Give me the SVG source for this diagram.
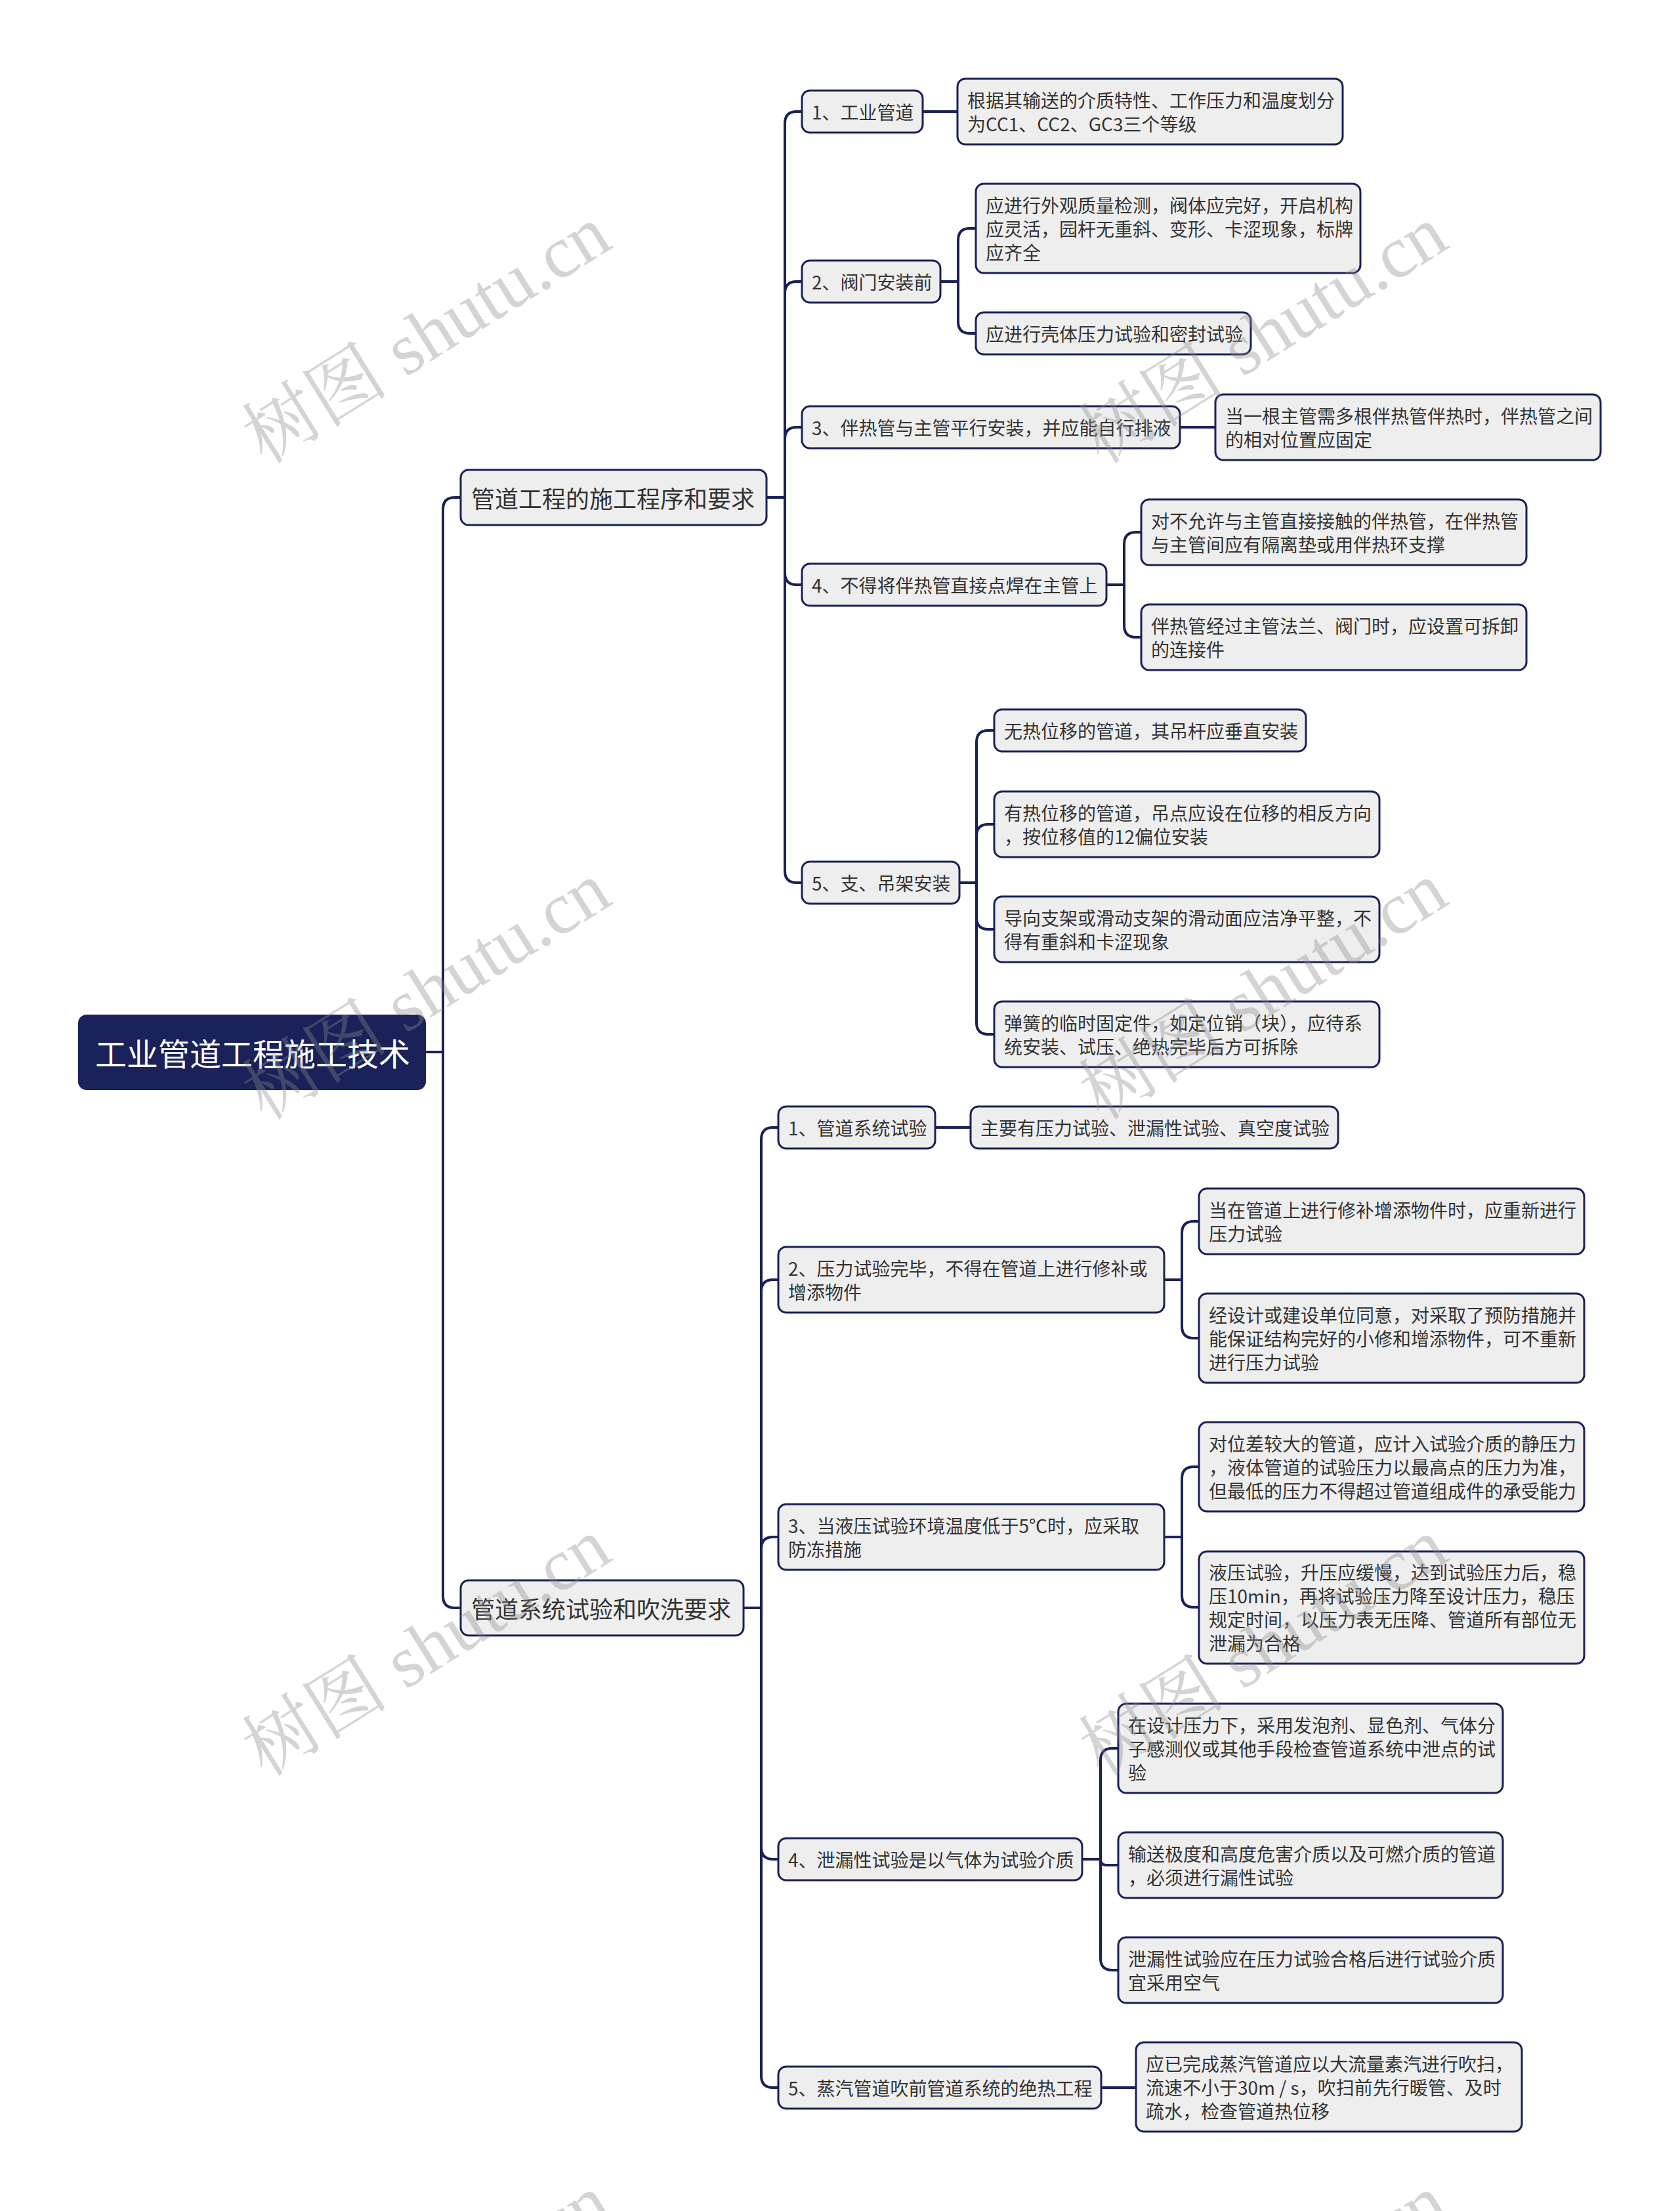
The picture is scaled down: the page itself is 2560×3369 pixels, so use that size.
<svg xmlns="http://www.w3.org/2000/svg" width="2560" height="3369" viewBox="0 0 2560 3369">
<style>
.bg{fill:#ffffff}
.n rect{fill:#eeeeee;stroke:#1b2157;stroke-width:3}
.n text{font-family:"Noto Sans CJK SC","Noto Sans",sans-serif;font-size:28px;fill:#333333;dominant-baseline:central}
.l1 text{font-size:36px}
.root rect{fill:#1b2159;stroke:#1b2159;stroke-width:2}
.root text{font-family:"Noto Sans CJK SC","Noto Sans",sans-serif;font-size:48px;fill:#ffffff;dominant-baseline:central}
.c path{fill:none;stroke:#1b2157;stroke-width:4;stroke-linecap:round;stroke-linejoin:round}
.wm text{font-family:"Liberation Serif","Noto Serif CJK SC","Noto Sans CJK SC",serif;font-size:112px;fill:#8a8a8a;opacity:0.36;text-anchor:middle;dominant-baseline:central}
</style>
<rect class="bg" x="0" y="0" width="2560" height="3369"/>

<g id="connectors" class="c">
  <path d="M648,1603 H675 V776 Q675,758 693,758 H702"/>
  <path d="M648,1603 H675 V2432 Q675,2450 693,2450 H702"/>
  <!-- group 1 -->
  <path d="M1168,758 H1196 V188 Q1196,170 1214,170 H1222"/>
  <path d="M1168,758 H1196 V447 Q1196,429 1214,429 H1222"/>
  <path d="M1168,758 H1196 V669 Q1196,651 1214,651 H1222"/>
  <path d="M1168,758 H1196 V873 Q1196,891 1214,891 H1222"/>
  <path d="M1168,758 H1196 V1327 Q1196,1345 1214,1345 H1222"/>
  <path d="M1406,170 H1459"/>
  <path d="M1433,429 H1460 V366 Q1460,348 1478,348 H1487"/>
  <path d="M1433,429 H1460 V490 Q1460,508 1478,508 H1487"/>
  <path d="M1798,651 H1852"/>
  <path d="M1686,891 H1713 V829 Q1713,811 1731,811 H1739"/>
  <path d="M1686,891 H1713 V953 Q1713,971 1731,971 H1739"/>
  <path d="M1462,1345 H1488 V1131 Q1488,1113 1506,1113 H1515"/>
  <path d="M1462,1345 H1488 V1274 Q1488,1256 1506,1256 H1515"/>
  <path d="M1462,1345 H1488 V1398 Q1488,1416 1506,1416 H1515"/>
  <path d="M1462,1345 H1488 V1558 Q1488,1576 1506,1576 H1515"/>
  <!-- group 2 -->
  <path d="M1133,2450 H1160 V1736 Q1160,1718 1178,1718 H1186"/>
  <path d="M1133,2450 H1160 V1968 Q1160,1950 1178,1950 H1186"/>
  <path d="M1133,2450 H1160 V2360 Q1160,2342 1178,2342 H1186"/>
  <path d="M1133,2450 H1160 V2815 Q1160,2833 1178,2833 H1186"/>
  <path d="M1133,2450 H1160 V3163 Q1160,3181 1178,3181 H1186"/>
  <path d="M1425,1718 H1479"/>
  <path d="M1774,1950 H1801 V1879 Q1801,1861 1819,1861 H1827"/>
  <path d="M1774,1950 H1801 V2021 Q1801,2039 1819,2039 H1827"/>
  <path d="M1774,2342 H1801 V2253 Q1801,2235 1819,2235 H1827"/>
  <path d="M1774,2342 H1801 V2431 Q1801,2449 1819,2449 H1827"/>
  <path d="M1649,2833 H1677 V2682 Q1677,2664 1695,2664 H1704"/>
  <path d="M1649,2833 H1677 Q1677,2842 1686,2842 H1704"/>
  <path d="M1649,2833 H1677 V2984 Q1677,3002 1695,3002 H1704"/>
  <path d="M1678,3181 H1731"/>
</g>

<g id="root" class="root">
  <rect x="120" y="1547" width="528" height="113" rx="12"/>
  <text x="145" y="1603">工业管道工程施工技术</text>
</g>

<g id="l1a" class="n l1">
  <rect x="702" y="716" width="466" height="84" rx="12"/>
  <text x="718" y="758">管道工程的施工程序和要求</text>
</g>
<g id="l1b" class="n l1">
  <rect x="702" y="2408" width="431" height="84" rx="12"/>
  <text x="718" y="2450">管道系统试验和吹洗要求</text>
</g>

<g id="n1" class="n">
  <rect x="1222" y="138" width="184" height="64" rx="12"/>
  <text x="1237" y="170">1、工业管道</text>
</g>
<g id="n1a" class="n">
  <rect x="1459" y="120" width="587" height="100" rx="12"/>
  <text x="1474" y="152">根据其输送的介质特性、工作压力和温度划分</text>
  <text x="1474" y="188">为CC1、CC2、GC3三个等级</text>
</g>
<g id="n2" class="n">
  <rect x="1222" y="397" width="211" height="64" rx="12"/>
  <text x="1237" y="429">2、阀门安装前</text>
</g>
<g id="n2a" class="n">
  <rect x="1487" y="280" width="586" height="136" rx="12"/>
  <text x="1502" y="312">应进行外观质量检测，阀体应完好，开启机构</text>
  <text x="1502" y="348">应灵活，园杆无重斜、变形、卡涩现象，标牌</text>
  <text x="1502" y="384">应齐全</text>
</g>
<g id="n2b" class="n">
  <rect x="1487" y="476" width="419" height="64" rx="12"/>
  <text x="1502" y="508">应进行壳体压力试验和密封试验</text>
</g>
<g id="n3" class="n">
  <rect x="1222" y="619" width="576" height="64" rx="12"/>
  <text x="1237" y="651">3、伴热管与主管平行安装，并应能自行排液</text>
</g>
<g id="n3a" class="n">
  <rect x="1852" y="601" width="587" height="100" rx="12"/>
  <text x="1867" y="633">当一根主管需多根伴热管伴热时，伴热管之间</text>
  <text x="1867" y="669">的相对位置应固定</text>
</g>
<g id="n4" class="n">
  <rect x="1222" y="859" width="464" height="64" rx="12"/>
  <text x="1237" y="891">4、不得将伴热管直接点焊在主管上</text>
</g>
<g id="n4a" class="n">
  <rect x="1739" y="761" width="587" height="100" rx="12"/>
  <text x="1754" y="793">对不允许与主管直接接触的伴热管，在伴热管</text>
  <text x="1754" y="829">与主管间应有隔离垫或用伴热环支撑</text>
</g>
<g id="n4b" class="n">
  <rect x="1739" y="921" width="587" height="100" rx="12"/>
  <text x="1754" y="953">伴热管经过主管法兰、阀门时，应设置可拆卸</text>
  <text x="1754" y="989">的连接件</text>
</g>
<g id="n5" class="n">
  <rect x="1222" y="1313" width="240" height="64" rx="12"/>
  <text x="1237" y="1345">5、支、吊架安装</text>
</g>
<g id="n5a" class="n">
  <rect x="1515" y="1081" width="475" height="64" rx="12"/>
  <text x="1530" y="1113">无热位移的管道，其吊杆应垂直安装</text>
</g>
<g id="n5b" class="n">
  <rect x="1515" y="1206" width="587" height="100" rx="12"/>
  <text x="1530" y="1238">有热位移的管道，吊点应设在位移的相反方向</text>
  <text x="1530" y="1274">，按位移值的12偏位安装</text>
</g>
<g id="n5c" class="n">
  <rect x="1515" y="1366" width="587" height="100" rx="12"/>
  <text x="1530" y="1398">导向支架或滑动支架的滑动面应洁净平整，不</text>
  <text x="1530" y="1434">得有重斜和卡涩现象</text>
</g>
<g id="n5d" class="n">
  <rect x="1515" y="1526" width="587" height="100" rx="12"/>
  <text x="1530" y="1558">弹簧的临时固定件，如定位销（块），应待系</text>
  <text x="1530" y="1594">统安装、试压、绝热完毕后方可拆除</text>
</g>

<g id="m1" class="n">
  <rect x="1186" y="1686" width="239" height="64" rx="12"/>
  <text x="1201" y="1718">1、管道系统试验</text>
</g>
<g id="m1a" class="n">
  <rect x="1479" y="1686" width="560" height="64" rx="12"/>
  <text x="1494" y="1718">主要有压力试验、泄漏性试验、真空度试验</text>
</g>
<g id="m2" class="n">
  <rect x="1186" y="1900" width="588" height="100" rx="12"/>
  <text x="1201" y="1932">2、压力试验完毕，不得在管道上进行修补或</text>
  <text x="1201" y="1968">增添物件</text>
</g>
<g id="m2a" class="n">
  <rect x="1827" y="1811" width="587" height="100" rx="12"/>
  <text x="1842" y="1843">当在管道上进行修补增添物件时，应重新进行</text>
  <text x="1842" y="1879">压力试验</text>
</g>
<g id="m2b" class="n">
  <rect x="1827" y="1971" width="587" height="136" rx="12"/>
  <text x="1842" y="2003">经设计或建设单位同意，对采取了预防措施并</text>
  <text x="1842" y="2039">能保证结构完好的小修和增添物件，可不重新</text>
  <text x="1842" y="2075">进行压力试验</text>
</g>
<g id="m3" class="n">
  <rect x="1186" y="2292" width="588" height="100" rx="12"/>
  <text x="1201" y="2324">3、当液压试验环境温度低于5℃时，应采取</text>
  <text x="1201" y="2360">防冻措施</text>
</g>
<g id="m3a" class="n">
  <rect x="1827" y="2167" width="587" height="136" rx="12"/>
  <text x="1842" y="2199">对位差较大的管道，应计入试验介质的静压力</text>
  <text x="1842" y="2235">，液体管道的试验压力以最高点的压力为准，</text>
  <text x="1842" y="2271">但最低的压力不得超过管道组成件的承受能力</text>
</g>
<g id="m3b" class="n">
  <rect x="1827" y="2364" width="587" height="171" rx="12"/>
  <text x="1842" y="2395">液压试验，升压应缓慢，达到试验压力后，稳</text>
  <text x="1842" y="2431">压10min，再将试验压力降至设计压力，稳压</text>
  <text x="1842" y="2467">规定时间，以压力表无压降、管道所有部位无</text>
  <text x="1842" y="2503">泄漏为合格</text>
</g>
<g id="m4" class="n">
  <rect x="1186" y="2801" width="463" height="64" rx="12"/>
  <text x="1201" y="2833">4、泄漏性试验是以气体为试验介质</text>
</g>
<g id="m4a" class="n">
  <rect x="1704" y="2596" width="586" height="136" rx="12"/>
  <text x="1719" y="2628">在设计压力下，采用发泡剂、显色剂、气体分</text>
  <text x="1719" y="2664">子感测仪或其他手段检查管道系统中泄点的试</text>
  <text x="1719" y="2700">验</text>
</g>
<g id="m4b" class="n">
  <rect x="1704" y="2792" width="586" height="100" rx="12"/>
  <text x="1719" y="2824">输送极度和高度危害介质以及可燃介质的管道</text>
  <text x="1719" y="2860">，必须进行漏性试验</text>
</g>
<g id="m4c" class="n">
  <rect x="1704" y="2952" width="586" height="100" rx="12"/>
  <text x="1719" y="2984">泄漏性试验应在压力试验合格后进行试验介质</text>
  <text x="1719" y="3020">宜采用空气</text>
</g>
<g id="m5" class="n">
  <rect x="1186" y="3149" width="492" height="64" rx="12"/>
  <text x="1201" y="3181">5、蒸汽管道吹前管道系统的绝热工程</text>
</g>
<g id="m5a" class="n">
  <rect x="1731" y="3112" width="588" height="136" rx="12"/>
  <text x="1746" y="3144">应已完成蒸汽管道应以大流量素汽进行吹扫，</text>
  <text x="1746" y="3180">流速不小于30m / s，吹扫前先行暖管、及时</text>
  <text x="1746" y="3216">疏水，检查管道热位移</text>
</g>

<g id="watermark" class="wm">
  <text transform="translate(650,510) rotate(-32)">树图 shutu.cn</text>
  <text transform="translate(1925,510) rotate(-32)">树图 shutu.cn</text>
  <text transform="translate(650,1510) rotate(-32)">树图 shutu.cn</text>
  <text transform="translate(1925,1510) rotate(-32)">树图 shutu.cn</text>
  <text transform="translate(650,2510) rotate(-32)">树图 shutu.cn</text>
  <text transform="translate(1925,2510) rotate(-32)">树图 shutu.cn</text>
  <text transform="translate(650,3510) rotate(-32)">树图 shutu.cn</text>
  <text transform="translate(1925,3510) rotate(-32)">树图 shutu.cn</text>
</g>
</svg>
